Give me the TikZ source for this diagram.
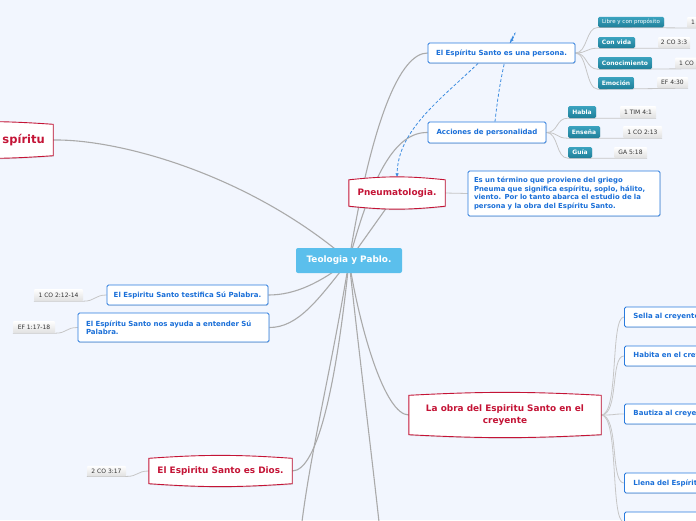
\documentclass[tikz,border=0pt]{standalone}
\usepackage{fontspec}
\setmainfont{DejaVu Sans}
\usetikzlibrary{shadows,arrows.meta}
\definecolor{bgcol}{HTML}{F2F6FE}
\definecolor{mainfill}{HTML}{5BBFEC}
\definecolor{redc}{HTML}{C41436}
\definecolor{bluec}{HTML}{2A7BDE}
\definecolor{bluet}{HTML}{1A6FD8}
\definecolor{tealtop}{HTML}{3BA3BF}
\definecolor{tealbot}{HTML}{1F7F99}
\definecolor{linec}{HTML}{AAAAAA}
\definecolor{sublinec}{HTML}{C6C6C6}
\definecolor{dashc}{HTML}{3B8BE0}
\definecolor{reftext}{HTML}{333333}
\pgfdeclarelayer{back}
\pgfdeclarelayer{conn}
\pgfdeclarelayer{shapes}
\pgfsetlayers{back,conn,shapes,main}
\tikzset{
  mainnode/.style={fill=mainfill, rounded corners=2pt, text=white, inner sep=0pt,
    font=\bfseries\fontsize{8.9}{10.5}\selectfont},
  redtxt/.style={inner sep=0pt, text=redc, align=center,
    font=\bfseries\fontsize{8.9}{11.3}\selectfont},
  redbord/.style={draw=redc, line width=0.9pt, fill=white,
    drop shadow={opacity=0.22, shadow xshift=0.6pt, shadow yshift=-1pt}},
  bluebox/.style={draw=bluec, line width=0.9pt, fill=white, rounded corners=1.5pt,
    text=bluet, inner sep=0pt, font=\bfseries\fontsize{7}{8.5}\selectfont,
    drop shadow={opacity=0.22, shadow xshift=0.5pt, shadow yshift=-0.9pt}},
  tealbox/.style={top color=tealtop, bottom color=tealbot, draw=none, rounded corners=1.5pt,
    text=white, inner sep=0pt, font=\bfseries\fontsize{6}{7}\selectfont,
    drop shadow={opacity=0.2, shadow xshift=0.4pt, shadow yshift=-0.7pt}},
  refbox/.style={top color=white, bottom color=black!12, draw=none, rounded corners=1pt,
    text=reftext, inner sep=0pt, font=\fontsize{6}{7}\selectfont},
  mainline/.style={draw=linec, line width=1.1pt},
  subline/.style={draw=sublinec, line width=0.8pt},
  dashline/.style={draw=dashc, line width=0.8pt, dash pattern=on 3pt off 2pt,
    -{Latex[length=4pt,width=3.6pt]}}
}
\newcommand{\bulgebox}[2]{%
  \draw[redbord] ([yshift=-2.5pt]#1.north west) to[bend left=#2] ([yshift=-2.5pt]#1.north east)
    -- ([yshift=2.5pt]#1.south east) to[bend left=#2] ([yshift=2.5pt]#1.south west) -- cycle;}
\begin{document}
\begin{tikzpicture}[x=1pt,y=-1pt]
\useasboundingbox (0,0) rectangle (696,520);
\begin{pgfonlayer}{back}
\fill[bgcol] (0,0) rectangle (696,520);
\end{pgfonlayer}

% central
\node[mainnode, minimum width=106, minimum height=25] (c) at (349,260.5) {Teologia y Pablo.};

% red topics
\node[redtxt, minimum width=96, minimum height=31] (pneu) at (397,193) {Pneumatologia.};
\node[inner sep=0pt, minimum width=133, minimum height=36] (spir) at (-13.5,140) {};
\node[redtxt, anchor=east, font=\bfseries\fontsize{11.5}{13}\selectfont] (spirt) at (45,140) {spíritu};
\node[redtxt, minimum width=143, minimum height=30] (dios) at (220.5,471) {El Espiritu Santo es Dios.};
\node[redtxt, minimum width=192, minimum height=44] (obra) at (505,415) {La obra del Espiritu Santo en el\\creyente};

% blue topics
\node[bluebox, minimum height=45, text width=180, inner xsep=6pt, align=left, font=\bfseries\fontsize{6.9}{8.6}\selectfont] (desc) at (564,193.5)
  {Es un término que proviene del griego\\Pneuma que significa espíritu, soplo, hálito,\\viento. Por lo tanto abarca el estudio de la\\persona y la obra del Espíritu Santo.};
\node[bluebox, minimum width=147, minimum height=20] (persona) at (501.5,53) {El Espíritu Santo es una persona.};
\node[bluebox, minimum width=118, minimum height=21] (acc) at (487,132.5) {Acciones de personalidad};
\node[bluebox, minimum width=161, minimum height=20] (testi) at (187.5,295) {El Espiritu Santo testifica Sú Palabra.};
\node[bluebox, minimum height=29, text width=175, inner xsep=8pt, align=left, font=\bfseries\fontsize{7}{8.3}\selectfont] (ayuda) at (173.5,327.5)
  {El Espíritu Santo nos ayuda a entender Sú\\Palabra.};

% right children of La obra
\node[bluebox, anchor=west, minimum height=20, text width=125, inner xsep=9pt, align=left] (sella) at (624,317) {Sella al creyente};
\node[bluebox, anchor=west, minimum height=20, text width=125, inner xsep=9pt, align=left] (habita) at (624,356) {Habita en el crey};
\node[bluebox, anchor=west, minimum height=20, text width=125, inner xsep=9pt, align=left] (bautiza) at (624,414) {Bautiza al creye};
\node[bluebox, anchor=west, minimum height=20, text width=125, inner xsep=9pt, align=left] (llena) at (624,483) {Llena del Espírit};
\node[bluebox, anchor=west, minimum height=20, text width=125, inner xsep=9pt, align=left] (quinto) at (624,522) {};

% teal children
\node[tealbox, minimum width=66, minimum height=10.5, font=\fontsize{5.5}{6}\selectfont] (libre) at (631,22) {Libre y con propósito};
\node[tealbox, minimum width=37, minimum height=11] (vida) at (616.5,42.5) {Con vida};
\node[tealbox, minimum width=54, minimum height=12] (conoc) at (625,63) {Conocimiento};
\node[tealbox, minimum width=36, minimum height=12] (emoc) at (616,83) {Emoción};
\node[tealbox, minimum width=28, minimum height=12] (habla) at (582,112) {Habla};
\node[tealbox, minimum width=32, minimum height=12] (ensena) at (584,132) {Enseña};
\node[tealbox, minimum width=24, minimum height=11] (guia) at (580,152.5) {Guía};

% references
\node[refbox, anchor=west, minimum height=11, text width=32, inner xsep=4pt, align=left] (rlibre) at (687,22.5) {1};
\node[refbox, minimum width=32, minimum height=11] (rvida) at (674,42.5) {2 CO 3:3};
\node[refbox, anchor=west, minimum height=11, text width=32, inner xsep=4pt, align=left] (rconoc) at (675,63) {1 CO};
\node[refbox, minimum width=31, minimum height=11] (remoc) at (672.5,82.5) {EF 4:30};
\node[refbox, minimum width=36, minimum height=12] (rhabla) at (638,112) {1 TIM 4:1};
\node[refbox, minimum width=39, minimum height=12] (rensena) at (642.5,132) {1 CO 2:13};
\node[refbox, minimum width=33, minimum height=11] (rguia) at (630.5,152.5) {GA 5:18};
\node[refbox, minimum width=49, minimum height=12] (rtesti) at (58.5,295) {1 CO 2:12-14};
\node[refbox, minimum width=42, minimum height=12] (rayuda) at (34,327) {EF 1:17-18};
\node[refbox, minimum width=39, minimum height=10.5] (rdios) at (106.5,471) {2 CO 3:17};

% red shapes
\begin{pgfonlayer}{shapes}
\bulgebox{pneu}{6}
\bulgebox{dios}{4}
\bulgebox{obra}{3}
\bulgebox{spir}{4}
\end{pgfonlayer}

% connectors
\begin{pgfonlayer}{conn}
\draw[mainline] (c.center) .. controls (250,175) and (120,139) .. (spir.east);
\draw[mainline] (c.center) .. controls (372,120) and (400,53) .. (persona.west);
\draw[mainline] (c.center) .. controls (372,175) and (395,132) .. (acc.west);
\draw[mainline] (c.center) -- (pneu.center);
\draw[mainline] (c.center) .. controls (320,283) and (295,295) .. (testi.east);
\draw[mainline] (c.center) .. controls (318,300) and (298,327.5) .. (ayuda.east);
\draw[mainline] (c.center) .. controls (337,380) and (318,471) .. (dios.east);
\draw[mainline] (c.center) .. controls (360,330) and (385,415) .. (obra.west);
\coordinate (downl) at (298,560);
\coordinate (downr) at (383,560);
\draw[mainline] (c.center) .. controls (330,380) and (305,470) .. (downl);
\draw[mainline] (c.center) .. controls (362,380) and (375,480) .. (downr);

\draw[subline] (pneu.east) -- (desc.west);
\foreach \k/\r in {libre/rlibre, vida/rvida, conoc/rconoc, emoc/remoc} {
  \draw[subline] (persona.east) .. controls +(12,0) and +(-12,0) .. (\k.south west) -- (\r.south east);
}
\draw[subline] (rlibre.south east) -- +(40,0);
\draw[subline] (rconoc.south east) -- +(40,0);
\foreach \k/\r in {habla/rhabla, ensena/rensena, guia/rguia} {
  \draw[subline] (acc.east) .. controls +(12,0) and +(-12,0) .. (\k.south west) -- (\r.south east);
}
\foreach \k in {sella, habita, bautiza, llena, quinto} {
  \draw[subline] (obra.east) .. controls +(18,0) and +(-14,0) .. (\k.west);
}
\draw[subline] (testi.west) .. controls +(-12,0) and +(12,0) .. (rtesti.south east) -- (rtesti.south west);
\draw[subline] (ayuda.west) .. controls +(-12,0) and +(12,0) .. (rayuda.south east) -- (rayuda.south west);
\draw[subline] (dios.west) .. controls +(-12,0) and +(12,0) .. (rdios.south east) -- (rdios.south west);

\draw[dashline] ([xshift=-23.5pt]persona.south) .. controls (440,100) and (398,130) .. (pneu.north);
\draw[dashline] ([xshift=8pt]acc.north) .. controls (505,30) and (522,25) .. ([xshift=8.5pt]persona.north);
\end{pgfonlayer}
\end{tikzpicture}
\end{document}
